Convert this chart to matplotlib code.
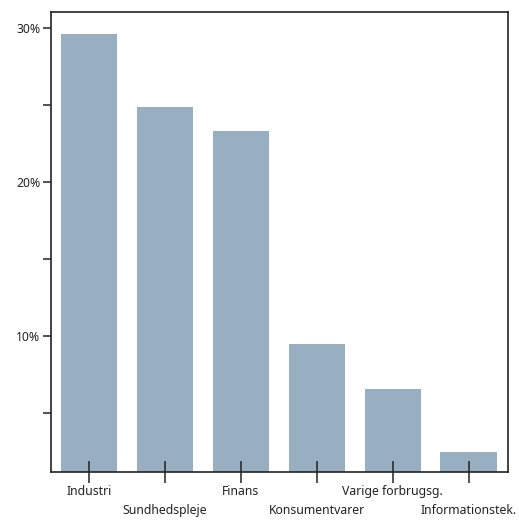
import matplotlib
matplotlib.use('Agg')
from matplotlib import pyplot as plt
from matplotlib.ticker import MultipleLocator, FuncFormatter
from matplotlib.transforms import ScaledTranslation

# sektorfordeling
sectors = ['Industri', 'Sundhedspleje', 'Finans', 'Konsumentvarer',
           'Varige forbrugsg.', 'Informationstek.']
weights = [29.6, 24.9, 23.3, 9.5, 6.6, 2.5]

bar_color = '#98afc2'
ink = '#222222'

plt.rcParams['font.family'] = ['Noto Sans', 'DejaVu Sans']

fig = plt.figure(figsize=(5.19, 5.21), dpi=100)
ax = fig.add_axes([51/519, 49/521, 457/519, 460/521])

x = list(range(len(sectors)))
ax.bar(x, weights, width=0.74, color=bar_color)

ax.set_xlim(-0.5, 5.52)
ax.set_ylim(1.2, 31.05)

ax.yaxis.set_major_locator(MultipleLocator(10))
ax.yaxis.set_minor_locator(MultipleLocator(5))
ax.yaxis.set_major_formatter(FuncFormatter(lambda v, p: f'{v:.0f}%'))

ax.set_xticks(x)
ax.set_xticklabels(sectors)

for s in ax.spines.values():
    s.set_linewidth(1.2)
    s.set_color(ink)

ax.tick_params(axis='x', direction='inout', length=16.5, width=1.1,
               color=ink, labelsize=8.8, labelcolor=ink, pad=1)
ax.tick_params(axis='y', which='both', direction='out', length=5.8,
               width=1.1, color=ink, labelsize=8.8, labelcolor=ink, pad=2)

# hver anden label rykkes ned
for i, lbl in enumerate(ax.get_xticklabels()):
    if i % 2 == 1:
        lbl.set_transform(lbl.get_transform() +
                          ScaledTranslation(0, -19/100, fig.dpi_scale_trans))

fig.savefig('out.png', dpi=100)
